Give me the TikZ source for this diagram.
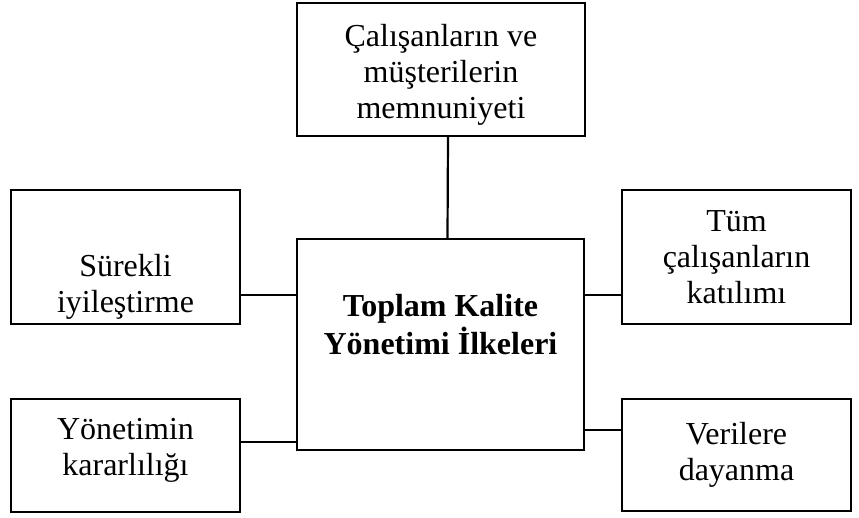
\documentclass[tikz,border=0pt]{standalone}
\usepackage{fontspec}
\setmainfont{Liberation Serif}
\usetikzlibrary{positioning,calc}
\tikzstyle{kutu}=[draw, line width=1.2pt, align=center, inner sep=0pt,
  font=\fontsize{16}{18}\selectfont]
\tikzstyle{yazi}=[align=center, inner sep=0pt, font=\fontsize{16}{18}\selectfont]
\tikzstyle{hat}=[line width=1.1pt]

\begin{document}
\begin{tikzpicture}[x=0.5pt,y=-0.5pt]
\useasboundingbox (0,0) rectangle (859,518);
\node (memn) [kutu,minimum width=144pt,minimum height=66.5pt] at (441,69.5) {};
\node (memn-t) [yazi] at ([yshift=-2.5pt]memn.center)
  {Çalışanların ve\\müşterilerin\\memnuniyeti};
\node (tkm) [kutu,minimum width=143.5pt,minimum height=105.5pt] at (440.5,344.5) {};
\node (tkm-t) [yazi,font=\fontsize{16}{19}\selectfont\bfseries]
  at ([yshift=10pt]tkm.center) {Toplam Kalite\\Yönetimi İlkeleri};

\node (sur) [kutu,minimum width=114.5pt,minimum height=67pt] at (125.5,257) {};
\node (sur-t) [yazi] at ([yshift=-15pt]sur.center) {Sürekli\\iyileştirme};
\node (tum) [kutu,minimum width=114.5pt,minimum height=67pt] at (736.5,257)
  {Tüm\\çalışanların\\katılımı};

\node (yon) [kutu,minimum width=114.5pt,minimum height=56.5pt] at (125.5,455.5) {};
\node (yon-t) [yazi] at ([yshift=2.5pt]yon.center) {Yönetimin\\kararlılığı};
\node (ver) [kutu,minimum width=114.5pt,minimum height=56pt] at (736.5,455)
  {Verilere\\dayanma};

\draw[hat] ([xshift=3.5pt]memn.south) -- ([xshift=3.5pt]tkm.north);
\draw[hat] ([yshift=-19pt]sur.east) -- ([yshift=-19pt]sur.east-|tkm.west);
\draw[hat] ([yshift=-19pt]tum.west) -- ([yshift=-19pt]tum.west-|tkm.east);
\draw[hat] ([yshift=6.75pt]yon.east) -- ([yshift=6.75pt]yon.east-|tkm.west);
\draw[hat] ([yshift=12.5pt]ver.west) -- ([yshift=12.5pt]ver.west-|tkm.east);

\end{tikzpicture}
\end{document}
